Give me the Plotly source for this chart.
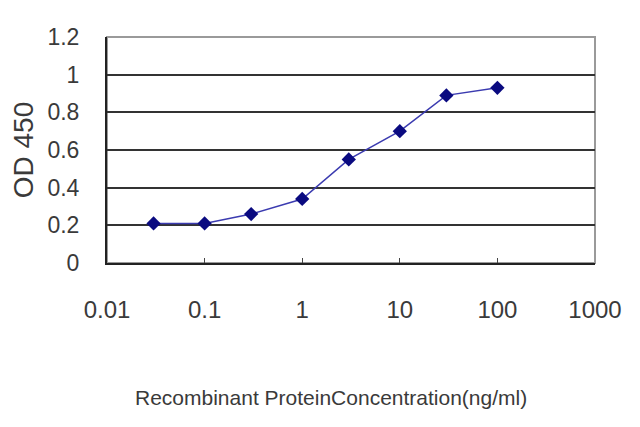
import plotly.graph_objects as go

concentration = [0.03, 0.1, 0.3, 1, 3, 10, 30, 100]
od450 = [0.21, 0.21, 0.26, 0.34, 0.55, 0.70, 0.89, 0.93]
x_ticks = [0.01, 0.1, 1, 10, 100, 1000]
x_tick_labels = ["0.01", "0.1", "1", "10", "100", "1000"]
y_ticks = [0, 0.2, 0.4, 0.6, 0.8, 1, 1.2]
y_tick_labels = ["0", "0.2", "0.4", "0.6", "0.8", "1", "1.2"]
grid_vals = [0.2, 0.4, 0.6, 0.8, 1.0]
x_title = "Recombinant ProteinConcentration(ng/ml)"
y_title = "OD 450"

FONT = "Liberation Sans, Arial, sans-serif"
TXT = "#3a3a3a"

fig = go.Figure()
fig.add_trace(go.Scatter(
    x=concentration, y=od450, mode="lines+markers",
    line=dict(color="#3b3bb0", width=1.5),
    marker=dict(symbol="diamond", size=11, color="#0a0a80"),
    showlegend=False, xaxis="x", yaxis="y",
))
fig.add_trace(go.Scatter(x=[concentration[0]], y=[od450[0]], mode="markers",
                         marker=dict(opacity=0), showlegend=False, hoverinfo="skip",
                         xaxis="x", yaxis="y2"))

fig.update_layout(
    width=640, height=427,
    margin=dict(l=99, r=53, t=29, b=172),
    paper_bgcolor="white", plot_bgcolor="white",
    font=dict(family=FONT, color=TXT),
    xaxis=dict(
        type="log", range=[-2, 3], tickvals=x_ticks, ticktext=x_tick_labels,
        showgrid=False, zeroline=False, showline=True, linecolor="#222", linewidth=2,
        ticks="inside", ticklen=5, tickcolor="#444", tickwidth=1,
        tickfont=dict(size=24, family=FONT, color=TXT), ticklabelstandoff=24,
        automargin=False,
    ),
    yaxis=dict(
        range=[0, 1.2], tickvals=y_ticks, ticktext=y_tick_labels,
        showgrid=False, zeroline=False, showline=True, linecolor="#222", linewidth=2,
        ticks="", tickfont=dict(size=23, family=FONT, color=TXT), ticklabelstandoff=21,
        title=dict(text=y_title, font=dict(size=28, family=FONT, color=TXT),
                   standoff=16),
        automargin=False,
    ),
    yaxis2=dict(
        range=[0, 1.2], tickvals=grid_vals, showticklabels=False, overlaying="y",
        showgrid=True, gridcolor="#333", gridwidth=2, zeroline=False, showline=False,
        automargin=False,
    ),
    shapes=[dict(type="rect", xref="paper", yref="paper", x0=0, x1=1, y0=0, y1=1,
                 line=dict(color="#9a9a9a", width=2), layer="below")],
    annotations=[dict(text=x_title, xref="paper", yref="paper", x=0.459, y=0,
                      xanchor="center", yanchor="middle", yshift=-134, showarrow=False,
                      font=dict(size=21, family=FONT, color=TXT))],
)

fig.write_html("out.html")
